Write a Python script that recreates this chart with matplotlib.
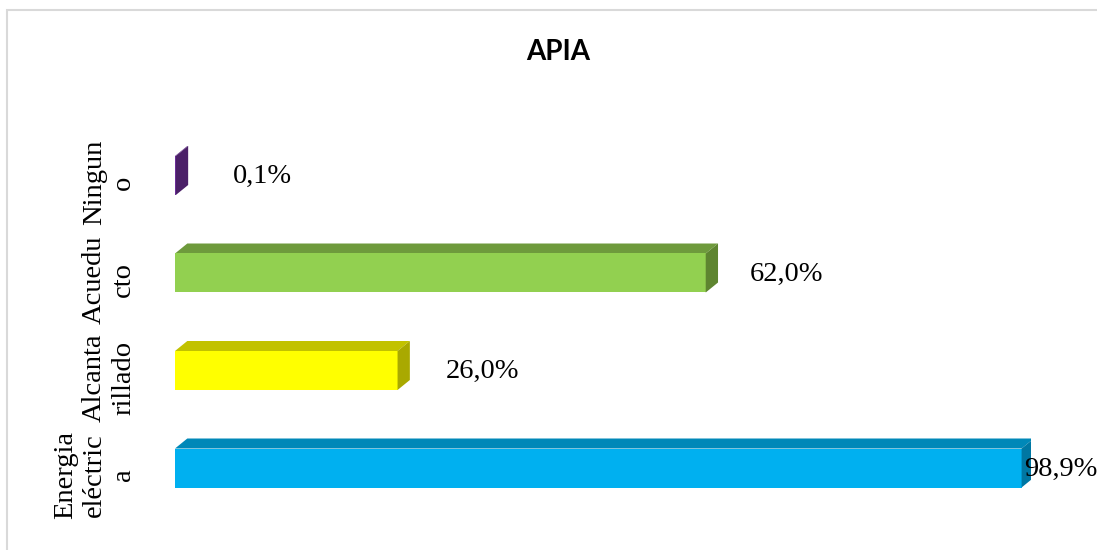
import matplotlib
matplotlib.use("Agg")
import matplotlib.pyplot as plt
from matplotlib.patches import Polygon, Rectangle
from matplotlib.transforms import ScaledTranslation

# ---- data ----
categories = ["Energia\neléctric\na", "Alcanta\nrillado", "Acuedu\ncto", "Ningun\no"]
values = [98.9, 26.0, 62.0, 0.1]
value_labels = ["98,9%", "26,0%", "62,0%", "0,1%"]
title = "APIA"

# ---- styles ----
front_colors = ["#00B0F0", "#FFFF00", "#92D050", "#7030A0"]
top_colors = ["#0088B8", "#C2C200", "#6E9A3C", "#5A2880"]
side_colors = ["#0077A3", "#A9A900", "#5E8530", "#4B2068"]
label_dx_px = [3, 48, 44, 57]

W, H, DPI = 1097, 550, 100
fig = plt.figure(figsize=(W / DPI, H / DPI), dpi=DPI)
fig.patch.set_facecolor("white")

# chart border (light gray), extending past right/bottom edges
border = Rectangle((6.5 / W, -0.1), 1.2, 1 - 10.5 / H + 0.1, transform=fig.transFigure,
                   fill=False, edgecolor="#D9D9D9", linewidth=1.5)
fig.patches.append(border)

# axes: x 0..100 maps 175..1031 px ; category i centred at 468 - 97.5 i px
x0_px, x1_px = 175, 1031
step = 97.5
c0 = 468
ylo, yhi = -0.8, 3.8
bottom_px = c0 + (-ylo) * step
top_px = c0 - yhi * step
ax = fig.add_axes([x0_px / W, (H - bottom_px) / H, (x1_px - x0_px) / W, (bottom_px - top_px) / H])
ax.set_xlim(0, 100)
ax.set_ylim(ylo, yhi)
ax.patch.set_alpha(0)
for s in ax.spines.values():
    s.set_visible(False)

px_per_x = (x1_px - x0_px) / 100.0
dx = 12.3 / px_per_x
dy = 10.0 / step
h = 0.40

ypos = list(range(len(categories)))
ax.barh(ypos, values, height=h, color=front_colors, edgecolor="none", zorder=2)
for i, v in enumerate(values):
    yt = i + h / 2
    yb = i - h / 2
    top = Polygon([(0, yt), (v, yt), (v + dx, yt + dy), (dx, yt + dy)], closed=True,
                  facecolor=top_colors[i], edgecolor="none", zorder=1)
    side = Polygon([(v, yb), (v + dx, yb + dy), (v + dx, yt + dy), (v, yt)], closed=True,
                   facecolor=side_colors[i], edgecolor="none", zorder=3)
    ax.add_patch(top)
    ax.add_patch(side)
    ax.annotate(value_labels[i], xy=(v, i), xytext=(label_dx_px[i] * 0.72, -1),
                textcoords="offset points", ha="left", va="center",
                fontsize=20.5, family="Liberation Serif", color="black",
                annotation_clip=False, zorder=5)

ax.set_xticks([])
ax.set_yticks(ypos)
ax.set_yticklabels(categories, rotation=90, va="center", ha="right",
                   multialignment="center", fontsize=20.5, family="Liberation Serif",
                   linespacing=1.22)
ax.tick_params(axis="y", length=0, pad=28)
for lab in ax.get_yticklabels():
    lab.set_transform(lab.get_transform() + ScaledTranslation(0, -7 / DPI, fig.dpi_scale_trans))

fig.text(558 / W, 1 - 52 / H, title, ha="center", va="center", fontsize=20,
         fontweight="bold", family="Lato", color="black")

fig.savefig("out.png", dpi=DPI, facecolor="white")
